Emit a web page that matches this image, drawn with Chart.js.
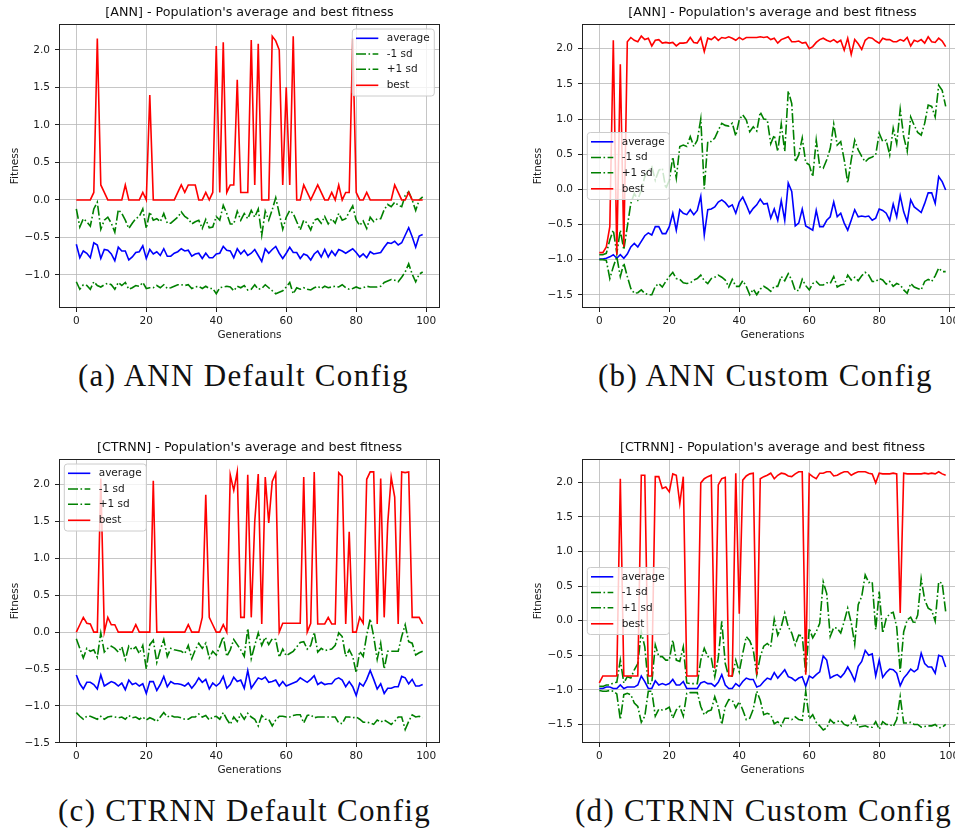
<!DOCTYPE html>
<html>
<head>
<meta charset="utf-8">
<script src="https://cdn.jsdelivr.net/npm/chart.js@4.4.1/dist/chart.umd.min.js"></script>
<style>
html,body{margin:0;padding:0;overflow:hidden;background:#fff;}
body{position:relative;width:955px;height:830px;}
.plot{position:absolute;}
.cap{position:absolute;font-family:"Liberation Serif",serif;font-size:31px;line-height:31px;letter-spacing:1.3px;white-space:nowrap;color:#111;}
</style>
</head>
<body>
<div class="plot" style="left:0;top:0"><canvas id="cA" width="450" height="345"></canvas></div>
<div class="plot" style="left:523px;top:0"><canvas id="cB" width="450" height="345"></canvas></div>
<div class="plot" style="left:0;top:435px"><canvas id="cC" width="450" height="345"></canvas></div>
<div class="plot" style="left:523px;top:435px"><canvas id="cD" width="450" height="345"></canvas></div>
<div class="cap" id="capA" style="left:78px;top:360px"></div>
<div class="cap" id="capB" style="left:598px;top:360px"></div>
<div class="cap" id="capC" style="left:58px;top:795px"></div>
<div class="cap" id="capD" style="left:575px;top:795px"></div>
<script>
// ---------- data ----------
const generations = Array.from({length: 100}, (_, i) => i);
const seriesNames = ['average', '-1 sd', '+1 sd', 'best'];
const chartTitles = ["[ANN] - Population's average and best fitness", "[ANN] - Population's average and best fitness",
                     "[CTRNN] - Population's average and best fitness", "[CTRNN] - Population's average and best fitness"];
const captions = ['(a) ANN Default Config', '(b) ANN Custom Config', '(c) CTRNN Default Config', '(d) CTRNN Custom Config'];
const xTickStep = 20;
const yTickStep = 0.5;

// (a) ANN default
const annDefaultAverage = [-0.59,-0.77,-0.68,-0.71,-0.77,-0.57,-0.60,-0.78,-0.66,-0.67,
 -0.72,-0.81,-0.63,-0.68,-0.68,-0.80,-0.76,-0.70,-0.69,-0.61,
 -0.78,-0.66,-0.72,-0.69,-0.74,-0.65,-0.75,-0.75,-0.71,-0.69,
 -0.65,-0.68,-0.67,-0.75,-0.72,-0.71,-0.78,-0.71,-0.77,-0.77,
 -0.72,-0.71,-0.62,-0.67,-0.68,-0.77,-0.65,-0.72,-0.67,-0.74,
 -0.71,-0.66,-0.74,-0.82,-0.65,-0.71,-0.66,-0.62,-0.71,-0.78,
 -0.71,-0.63,-0.70,-0.70,-0.78,-0.72,-0.74,-0.80,-0.72,-0.68,
 -0.76,-0.66,-0.76,-0.68,-0.74,-0.66,-0.68,-0.71,-0.68,-0.65,
 -0.70,-0.76,-0.72,-0.77,-0.69,-0.72,-0.71,-0.70,-0.63,-0.57,
 -0.58,-0.55,-0.60,-0.57,-0.47,-0.37,-0.49,-0.63,-0.48,-0.46];
const annDefaultMinus = [-1.09,-1.19,-1.13,-1.14,-1.19,-1.09,-1.14,-1.16,-1.13,-1.11,
 -1.13,-1.19,-1.10,-1.14,-1.10,-1.19,-1.17,-1.14,-1.15,-1.10,
 -1.18,-1.17,-1.17,-1.14,-1.17,-1.13,-1.18,-1.17,-1.15,-1.13,
 -1.13,-1.14,-1.13,-1.18,-1.16,-1.15,-1.18,-1.15,-1.18,-1.18,
 -1.25,-1.17,-1.16,-1.15,-1.16,-1.21,-1.15,-1.17,-1.14,-1.20,
 -1.19,-1.13,-1.19,-1.18,-1.13,-1.17,-1.21,-1.25,-1.23,-1.21,
 -1.16,-1.10,-1.25,-1.17,-1.19,-1.17,-1.19,-1.20,-1.17,-1.15,
 -1.18,-1.15,-1.17,-1.16,-1.15,-1.16,-1.13,-1.17,-1.19,-1.18,
 -1.16,-1.18,-1.17,-1.15,-1.16,-1.16,-1.16,-1.15,-1.10,-1.08,
 -1.06,-1.07,-1.09,-1.03,-0.96,-0.85,-0.99,-1.09,-0.99,-0.96];
const annDefaultPlus = [-0.12,-0.36,-0.25,-0.29,-0.35,-0.12,-0.03,-0.39,-0.27,-0.23,
 -0.31,-0.43,-0.13,-0.18,-0.27,-0.38,-0.31,-0.25,-0.22,-0.12,
 -0.38,-0.16,-0.27,-0.25,-0.29,-0.18,-0.31,-0.31,-0.27,-0.23,
 -0.16,-0.22,-0.25,-0.32,-0.29,-0.27,-0.38,-0.26,-0.37,-0.36,
 -0.22,-0.27,-0.07,-0.18,-0.32,-0.32,-0.15,-0.27,-0.18,-0.25,
 -0.14,-0.23,-0.12,-0.47,-0.15,-0.27,-0.13,0.03,-0.18,-0.39,
 -0.23,-0.14,-0.18,-0.29,-0.40,-0.27,-0.31,-0.40,-0.27,-0.25,
 -0.31,-0.22,-0.32,-0.25,-0.31,-0.18,-0.27,-0.25,-0.16,-0.08,
 -0.27,-0.34,-0.28,-0.38,-0.23,-0.29,-0.25,-0.25,-0.13,-0.06,
 -0.09,-0.03,-0.07,-0.09,0.06,0.11,0.00,-0.14,0.00,0.04];
const annDefaultBest = [0,0,0,0,0,0.1,2.15,0.2,0.1,0,
 0,0,0,0,0.2,0,0,0,0,0.1,
 0,1.4,0,0,0,0,0,0,0,0.1,
 0.2,0.1,0.2,0.2,0.2,0,0,0.1,0,0.1,
 2.05,0.1,2.1,0.1,0.2,0.2,1.6,0.1,0.1,0.1,
 2.13,0.2,2.08,0,0,0,2.18,2.12,2.0,0.2,
 1.5,0.2,2.18,0,0,0.2,0.1,0,0.1,0.2,
 0.1,0,0,0.1,0,0.2,0,0.1,0.1,2.15,
 0.1,0,0,0.1,0,0,0,0,0,0,
 0,0.2,0.1,0,0,0.1,0,0,0,0];

// (b) ANN custom
const annCustomAverage = [-0.99,-0.99,-0.98,-0.96,-0.93,-0.98,-0.93,-0.98,-0.92,-0.82,
 -0.77,-0.82,-0.74,-0.66,-0.62,-0.65,-0.53,-0.53,-0.63,-0.63,
 -0.53,-0.34,-0.58,-0.29,-0.34,-0.36,-0.29,-0.36,-0.30,-0.10,
 -0.65,-0.29,-0.28,-0.25,-0.18,-0.15,-0.19,-0.25,-0.22,-0.34,
 -0.18,-0.11,-0.22,-0.34,-0.27,-0.22,-0.14,-0.21,-0.20,-0.41,
 -0.28,-0.44,-0.16,-0.44,0.09,-0.03,-0.52,-0.48,-0.28,-0.52,
 -0.55,-0.58,-0.30,-0.53,-0.53,-0.44,-0.39,-0.18,-0.39,-0.34,
 -0.48,-0.58,-0.44,-0.29,-0.39,-0.38,-0.39,-0.38,-0.44,-0.41,
 -0.28,-0.30,-0.34,-0.44,-0.21,-0.39,-0.09,-0.32,-0.46,-0.15,
 -0.25,-0.29,-0.33,-0.20,-0.05,-0.05,-0.20,0.18,0.11,-0.01];
const annCustomMinus = [-1.00,-1.00,-1.01,-1.27,-1.10,-0.96,-1.24,-1.05,-1.24,-1.41,
 -1.48,-1.47,-1.43,-1.48,-1.50,-1.50,-1.38,-1.34,-1.39,-1.31,
 -1.24,-1.18,-1.27,-1.28,-1.33,-1.34,-1.33,-1.29,-1.27,-1.22,
 -1.30,-1.34,-1.27,-1.25,-1.22,-1.25,-1.29,-1.39,-1.28,-1.38,
 -1.38,-1.30,-1.38,-1.50,-1.42,-1.50,-1.42,-1.38,-1.41,-1.45,
 -1.38,-1.38,-1.24,-1.30,-1.20,-1.29,-1.44,-1.44,-1.28,-1.37,
 -1.43,-1.34,-1.31,-1.36,-1.36,-1.33,-1.34,-1.24,-1.39,-1.36,
 -1.35,-1.22,-1.29,-1.25,-1.30,-1.23,-1.18,-1.22,-1.31,-1.31,
 -1.27,-1.29,-1.35,-1.31,-1.38,-1.34,-1.36,-1.43,-1.48,-1.34,
 -1.39,-1.41,-1.43,-1.31,-1.28,-1.31,-1.23,-1.12,-1.17,-1.17];
const annCustomPlus = [-0.93,-0.93,-0.91,-0.72,-0.58,-0.91,-0.58,-0.86,-0.53,-0.20,
 -0.06,-0.15,-0.01,0.18,0.27,0.32,0.13,0.27,0.30,0.01,
 0.13,0.46,0.16,0.61,0.63,0.61,0.75,0.61,0.70,1.00,
 0.01,0.68,0.68,0.73,0.84,0.94,0.91,0.90,0.94,0.76,
 0.99,1.06,0.99,0.82,0.89,0.83,1.10,1.00,0.99,0.65,
 0.77,0.54,0.93,0.54,1.40,1.22,0.39,0.49,0.73,0.38,
 0.35,0.18,0.70,0.32,0.30,0.42,0.58,0.93,0.63,0.68,
 0.42,0.09,0.42,0.70,0.56,0.47,0.39,0.44,0.46,0.49,
 0.80,0.68,0.70,0.49,0.87,0.65,1.14,0.75,0.54,1.03,
 0.91,0.81,0.77,0.94,1.20,1.18,1.03,1.48,1.41,1.18];
const annCustomBest = [-0.90,-0.90,-0.82,-0.53,2.12,-0.93,1.78,-0.82,2.10,2.16,
 2.12,2.10,2.18,2.13,2.15,2.04,2.12,2.13,2.08,2.09,
 2.08,2.09,2.04,2.08,2.08,2.09,2.16,2.09,2.08,2.16,
 1.96,2.15,2.13,2.17,2.12,2.16,2.15,2.17,2.15,2.12,
 2.16,2.13,2.16,2.16,2.16,2.16,2.17,2.16,2.17,2.13,
 2.15,2.08,2.13,2.15,2.17,2.10,2.10,2.11,2.08,2.09,
 2.00,2.03,2.09,2.13,2.15,2.12,2.10,2.13,2.09,2.12,
 1.98,2.15,1.92,2.13,2.07,1.99,2.12,2.16,2.15,2.11,
 2.08,2.15,2.13,2.13,2.10,2.10,2.13,2.11,2.16,2.04,
 2.12,2.10,2.13,2.08,2.17,2.10,2.09,2.15,2.11,2.03];

// (c) CTRNN default
const ctrnnDefaultAverage = [-0.58,-0.70,-0.77,-0.68,-0.68,-0.71,-0.77,-0.58,-0.73,-0.70,
 -0.67,-0.69,-0.73,-0.69,-0.78,-0.65,-0.71,-0.69,-0.73,-0.70,
 -0.83,-0.67,-0.67,-0.79,-0.71,-0.60,-0.74,-0.67,-0.70,-0.70,
 -0.71,-0.73,-0.69,-0.76,-0.70,-0.62,-0.68,-0.64,-0.77,-0.69,
 -0.73,-0.69,-0.60,-0.76,-0.71,-0.61,-0.67,-0.65,-0.76,-0.52,
 -0.76,-0.69,-0.62,-0.64,-0.61,-0.68,-0.67,-0.65,-0.73,-0.67,
 -0.73,-0.71,-0.69,-0.67,-0.62,-0.65,-0.68,-0.64,-0.59,-0.71,
 -0.68,-0.71,-0.70,-0.70,-0.64,-0.62,-0.65,-0.74,-0.67,-0.74,
 -0.86,-0.69,-0.73,-0.64,-0.52,-0.64,-0.77,-0.70,-0.83,-0.76,
 -0.76,-0.74,-0.74,-0.60,-0.62,-0.70,-0.64,-0.73,-0.73,-0.71];
const ctrnnDefaultMinus = [-1.09,-1.14,-1.18,-1.14,-1.14,-1.16,-1.18,-1.14,-1.18,-1.15,
 -1.14,-1.15,-1.16,-1.15,-1.18,-1.13,-1.16,-1.15,-1.18,-1.15,
 -1.19,-1.16,-1.18,-1.21,-1.15,-1.09,-1.15,-1.13,-1.15,-1.15,
 -1.16,-1.18,-1.18,-1.15,-1.15,-1.11,-1.15,-1.13,-1.19,-1.15,
 -1.14,-1.18,-1.09,-1.18,-1.25,-1.15,-1.21,-1.11,-1.18,-1.10,
 -1.15,-1.18,-1.27,-1.13,-1.18,-1.18,-1.27,-1.19,-1.14,-1.14,
 -1.15,-1.15,-1.13,-1.12,-1.12,-1.23,-1.13,-1.12,-1.16,-1.15,
 -1.15,-1.15,-1.15,-1.15,-1.15,-1.23,-1.24,-1.15,-1.15,-1.16,
 -1.15,-1.18,-1.22,-1.22,-1.23,-1.25,-1.19,-1.22,-1.19,-1.22,
 -1.25,-1.21,-1.15,-1.15,-1.32,-1.21,-1.12,-1.15,-1.14,-1.16];
const ctrnnDefaultPlus = [-0.09,-0.22,-0.35,-0.22,-0.26,-0.24,-0.34,-0.01,-0.27,-0.22,
 -0.19,-0.22,-0.27,-0.20,-0.37,-0.19,-0.24,-0.20,-0.29,-0.18,
 -0.50,-0.17,-0.11,-0.41,-0.24,-0.10,-0.33,-0.22,-0.24,-0.25,
 -0.26,-0.29,-0.18,-0.36,-0.24,-0.15,-0.22,-0.15,-0.35,-0.26,
 -0.31,-0.19,-0.06,-0.33,-0.24,-0.10,-0.17,-0.24,-0.33,0.05,
 -0.36,-0.18,-0.01,-0.18,-0.07,-0.17,-0.09,-0.10,-0.34,-0.23,
 -0.32,-0.29,-0.26,-0.20,-0.14,-0.13,-0.23,-0.18,0.00,-0.27,
 -0.22,-0.25,-0.24,-0.23,-0.18,-0.01,-0.06,-0.33,-0.24,-0.33,
 -0.55,-0.26,-0.33,-0.04,0.18,-0.06,-0.37,-0.15,-0.50,-0.26,
 -0.26,-0.26,-0.26,-0.06,0.10,-0.13,-0.15,-0.31,-0.28,-0.26];
const ctrnnDefaultBest = [0,0.1,0.2,0.12,0.11,0,0,2.08,0,0.2,
 0.1,0.1,0,0,0,0,0,0.1,0,0,
 0,0,2.05,0,0,0,0,0,0,0,
 0,0,0.1,0,0,0,0.2,1.86,0.2,0.1,
 0,0,0.1,0,2.13,1.92,2.17,0.2,0.2,2.13,
 0.2,1.5,2.14,0.11,2.1,1.48,2.04,2.15,0,0.12,
 0.12,0.12,0.12,0.12,0.12,2.1,0,0.12,2.17,0.11,
 0.11,0.11,0.2,0.11,0.11,2.16,2.11,0.11,1.36,0,
 0,0.2,0.12,2.07,2.17,2.17,0.11,2.08,0.2,1.47,
 2.1,1.83,0.11,2.17,2.16,2.17,0.2,0.2,0.2,0.11];

// (d) CTRNN custom
const ctrnnCustomAverage = [-0.98,-0.98,-0.96,-0.96,-0.98,-0.98,-0.93,-0.98,-0.96,-0.96,
 -0.96,-0.93,-0.80,-0.88,-0.98,-0.98,-0.87,-0.93,-0.91,-0.93,
 -0.91,-0.85,-0.93,-0.93,-0.88,-0.98,-0.98,-0.98,-0.98,-0.90,
 -0.88,-0.91,-0.91,-0.95,-0.89,-0.78,-0.93,-0.98,-0.98,-0.91,
 -0.95,-0.88,-0.83,-0.85,-0.85,-0.96,-0.94,-0.88,-0.83,-0.85,
 -0.75,-0.83,-0.77,-0.71,-0.81,-0.83,-0.87,-0.83,-0.81,-0.95,
 -0.80,-0.83,-0.78,-0.74,-0.51,-0.57,-0.83,-0.80,-0.78,-0.82,
 -0.76,-0.67,-0.76,-0.87,-0.66,-0.59,-0.43,-0.50,-0.48,-0.80,
 -0.57,-0.82,-0.75,-0.70,-0.71,-0.76,-0.94,-0.83,-0.77,-0.70,
 -0.74,-0.70,-0.47,-0.62,-0.67,-0.67,-0.76,-0.50,-0.52,-0.67];
const ctrnnCustomMinus = [-1.01,-1.02,-1.02,-1.01,-1.02,-1.06,-1.43,-1.07,-1.05,-1.07,
 -1.19,-1.24,-1.47,-1.38,-1.02,-1.02,-1.38,-1.28,-1.29,-1.28,
 -1.25,-1.41,-1.29,-1.24,-1.38,-1.05,-1.04,-1.04,-1.04,-1.24,
 -1.36,-1.31,-1.29,-1.10,-1.25,-1.50,-1.24,-1.14,-1.15,-1.26,
 -1.17,-1.29,-1.43,-1.41,-1.28,-1.02,-1.15,-1.36,-1.34,-1.36,
 -1.49,-1.46,-1.52,-1.41,-1.41,-1.43,-1.39,-1.43,-1.44,-1.02,
 -1.42,-1.36,-1.47,-1.52,-1.58,-1.55,-1.43,-1.48,-1.46,-1.44,
 -1.50,-1.52,-1.48,-1.38,-1.54,-1.53,-1.52,-1.54,-1.54,-1.46,
 -1.57,-1.46,-1.50,-1.50,-1.53,-1.43,-1.10,-1.48,-1.48,-1.47,
 -1.50,-1.50,-1.54,-1.53,-1.52,-1.52,-1.50,-1.55,-1.54,-1.50];
const ctrnnCustomPlus = [-0.95,-0.95,-0.93,-0.93,-0.90,-0.89,-0.57,-0.90,-0.81,-0.83,
 -0.71,-0.62,-0.16,-0.38,-0.93,-0.90,-0.35,-0.52,-0.52,-0.57,
 -0.57,-0.28,-0.57,-0.59,-0.38,-0.90,-0.91,-0.91,-0.91,-0.57,
 -0.40,-0.52,-0.54,-0.81,-0.54,-0.01,-0.62,-0.81,-0.80,-0.57,
 -0.74,-0.47,-0.23,-0.29,-0.42,-0.78,-0.52,-0.37,-0.33,-0.38,
 0.02,-0.21,-0.09,0.11,-0.09,-0.18,-0.35,-0.21,-0.22,-0.76,
 -0.11,-0.25,-0.16,-0.04,0.56,0.39,-0.23,-0.10,-0.11,-0.18,
 -0.01,0.18,-0.03,-0.34,0.23,0.35,0.66,0.55,0.56,-0.13,
 0.42,-0.18,0.03,0.10,0.12,-0.09,-0.74,-0.16,0.01,0.05,
 -0.05,0.08,0.61,0.30,0.18,0.15,-0.01,0.56,0.54,0.13];
const ctrnnCustomBest = [-0.90,-0.80,-0.80,-0.80,-0.80,-0.80,2.05,-0.80,-0.80,-0.80,
 -0.80,-0.80,2.10,2.10,-0.80,-0.80,2.08,2.08,1.91,1.93,
 1.86,2.12,2.10,1.69,2.08,-0.80,-0.80,-0.80,-0.80,1.99,
 2.05,2.08,2.10,-0.69,1.96,2.05,2.07,-0.80,-0.80,2.13,
 0.10,2.03,2.09,2.12,2.13,-0.78,2.05,2.08,2.10,2.13,
 2.05,2.10,2.13,2.12,2.09,2.08,2.12,2.15,2.15,-0.78,
 2.12,2.08,2.05,2.13,2.13,2.15,2.15,2.09,2.10,2.13,
 2.15,2.15,2.10,2.13,2.15,2.15,2.15,2.13,2.12,1.99,
 2.13,2.12,2.12,2.12,2.13,2.12,0.11,2.13,2.12,2.12,
 2.12,2.12,2.12,2.13,2.12,2.13,2.12,2.15,2.12,2.10];

// ---------- drawing ----------
const FONT = 'DejaVu Sans';
const TXT = '#1a1a1a';
const FS = 10.5;
const TITLE_FS = 12.7;
const DASHDOT = [10, 2.5, 1.6, 2.5];
const LW = 1.6;

function pts(vals) { return generations.map((g, i) => ({x: g, y: vals[i]})); }
function fmtY(v) { const s = Math.abs(v).toFixed(1); return (v < -1e-9 ? '\u2212' : '') + s; }

const framePlugin = {
  id: 'frameAndLegend',
  afterDatasetsDraw(chart) {
    const ca = chart.chartArea, ctx = chart.ctx;
    const o = chart.options.plugins.frameAndLegend;
    ctx.save();
    ctx.strokeStyle = '#222';
    ctx.lineWidth = 1;
    ctx.setLineDash([]);
    ctx.strokeRect(Math.round(ca.left) + 0.5, Math.round(ca.top) + 0.5,
                   Math.round(ca.right - ca.left) - 1, Math.round(ca.bottom - ca.top) - 1);
    // title
    ctx.fillStyle = '#111';
    ctx.font = TITLE_FS + 'px "' + FONT + '"';
    ctx.textAlign = 'center';
    ctx.textBaseline = 'middle';
    ctx.fillText(o.title, (ca.left + ca.right) / 2, ca.top - 11.5);
    // legend
    const w = 82, h = 67;
    let x, y;
    if (o.legendPos === 'ur') { x = ca.right - 5.7 - w; y = ca.top + 5; }
    else if (o.legendPos === 'ul') { x = ca.left + 5.3; y = ca.top + 5; }
    else { x = ca.left + 5.3; y = (ca.top + ca.bottom) / 2 - h / 2; }
    ctx.beginPath();
    const r = 3;
    ctx.moveTo(x + r, y); ctx.lineTo(x + w - r, y); ctx.quadraticCurveTo(x + w, y, x + w, y + r);
    ctx.lineTo(x + w, y + h - r); ctx.quadraticCurveTo(x + w, y + h, x + w - r, y + h);
    ctx.lineTo(x + r, y + h); ctx.quadraticCurveTo(x, y + h, x, y + h - r);
    ctx.lineTo(x, y + r); ctx.quadraticCurveTo(x, y, x + r, y); ctx.closePath();
    ctx.fillStyle = 'rgba(255,255,255,0.8)';
    ctx.fill();
    ctx.strokeStyle = '#cccccc';
    ctx.lineWidth = 1;
    ctx.stroke();
    const rows = [9.3, 25, 40.3, 56.3];
    ctx.textAlign = 'left';
    ctx.font = FS + 'px "' + FONT + '"';
    [0, 1, 2, 3].forEach((di, k) => {
      const ds = chart.data.datasets[di];
      const yy = y + rows[k];
      ctx.beginPath();
      ctx.setLineDash(ds.borderDash || []);
      ctx.strokeStyle = ds.borderColor;
      ctx.lineWidth = LW;
      ctx.moveTo(x + 3.7, yy); ctx.lineTo(x + 26, yy);
      ctx.stroke();
      ctx.setLineDash([]);
      ctx.fillStyle = TXT;
      ctx.fillText(ds.label, x + 34.4, yy);
    });
    ctx.restore();
  }
};

function makeChart(id, title, avg, minus, plus, best, yMin, yMax, legendPos) {
  const ctx = document.getElementById(id).getContext('2d');
  return new Chart(ctx, {
    type: 'line',
    data: {
      datasets: [
        {label: seriesNames[0], data: pts(avg), borderColor: '#0000ff', borderWidth: LW, pointRadius: 0, tension: 0, order: 4},
        {label: seriesNames[1], data: pts(minus), borderColor: '#008000', borderWidth: LW, borderDash: DASHDOT, pointRadius: 0, tension: 0, order: 3},
        {label: seriesNames[2], data: pts(plus), borderColor: '#008000', borderWidth: LW, borderDash: DASHDOT, pointRadius: 0, tension: 0, order: 2},
        {label: seriesNames[3], data: pts(best), borderColor: '#ff0000', borderWidth: LW, pointRadius: 0, tension: 0, order: 1}
      ]
    },
    options: {
      responsive: false,
      animation: false,
      devicePixelRatio: 1,
      layout: {padding: {left: 0, right: 10, top: 24, bottom: 0}},
      plugins: {
        legend: {display: false},
        tooltip: {enabled: false},
        title: {display: false},
        frameAndLegend: {title: title, legendPos: legendPos}
      },
      scales: {
        x: {
          type: 'linear', min: -4.95, max: 103.95,
          afterFit: s => { s.height = 37; },
          ticks: {stepSize: xTickStep, includeBounds: false, color: TXT, font: {family: FONT, size: FS}, padding: 2.5, maxRotation: 0,
                  callback: v => String(v)},
          grid: {color: '#b8b8b8', lineWidth: 0.8, drawTicks: true, tickLength: 4, tickColor: '#222', tickWidth: 1},
          border: {display: false},
          title: {display: true, text: 'Generations', color: TXT, font: {family: FONT, size: FS}, padding: {top: 0, bottom: 3.5}}
        },
        y: {
          type: 'linear', min: yMin, max: yMax,
          afterFit: s => { s.width = 59; },
          ticks: {stepSize: yTickStep, includeBounds: false, color: TXT, font: {family: FONT, size: FS}, padding: 5,
                  callback: v => fmtY(v)},
          grid: {color: '#b8b8b8', lineWidth: 0.8, drawTicks: true, tickLength: 4, tickColor: '#222', tickWidth: 1},
          border: {display: false},
          title: {display: true, text: 'Fitness', color: TXT, font: {family: FONT, size: FS}, padding: {top: 8.5, bottom: 0}}
        }
      }
    },
    plugins: [framePlugin]
  });
}

makeChart('cA', chartTitles[0], annDefaultAverage, annDefaultMinus, annDefaultPlus, annDefaultBest, -1.44, 2.345, 'ur');
makeChart('cB', chartTitles[1], annCustomAverage, annCustomMinus, annCustomPlus, annCustomBest, -1.688, 2.352, 'cl');
makeChart('cC', chartTitles[2], ctrnnDefaultAverage, ctrnnDefaultMinus, ctrnnDefaultPlus, ctrnnDefaultBest, -1.502, 2.345, 'ul');
makeChart('cD', chartTitles[3], ctrnnCustomAverage, ctrnnCustomMinus, ctrnnCustomPlus, ctrnnCustomBest, -1.768, 2.335, 'cl');

['capA', 'capB', 'capC', 'capD'].forEach((id, i) => { document.getElementById(id).textContent = captions[i]; });
</script>
</body>
</html>
